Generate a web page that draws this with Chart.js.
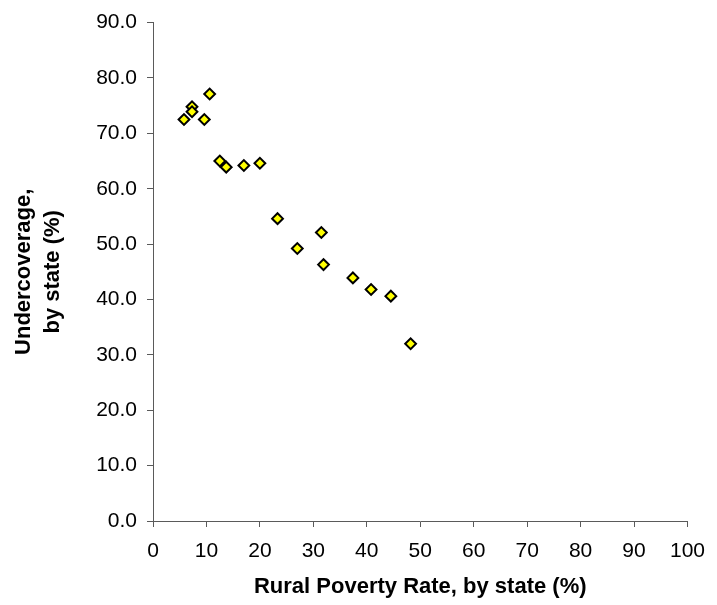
<!DOCTYPE html>
<html>
<head>
<meta charset="utf-8">
<script src="https://cdn.jsdelivr.net/npm/chart.js@4"></script>
<style>
  html, body { margin: 0; padding: 0; background: #fff; }
  #wrap { width: 717px; height: 605px; }
</style>
</head>
<body>
<div id="wrap"><canvas id="scatterChart" width="717" height="605"></canvas></div>
<script>
// rural poverty rate by state (%)
const povertyRate = [5.8, 7.3, 7.3, 9.6, 10.6, 12.5, 13.7, 17.0, 20.0, 23.3, 31.5, 27.0, 31.9, 37.4, 40.8, 44.5, 48.2];
// undercoverage by state (%)
const undercoverage = [72.5, 74.8, 73.9, 72.5, 77.1, 65.0, 63.9, 64.2, 64.6, 54.6, 52.1, 49.2, 46.3, 43.9, 41.8, 40.6, 32.0];

const xTitle = 'Rural Poverty Rate, by state (%)';
const yTitle = ['Undercoverage,', 'by state (%)'];

const fontFamily = '"Liberation Sans", Arial, sans-serif';
const axisColor = '#5a5a5a';

function buildPoints(xs, ys) {
  return xs.map((x, i) => ({ x: x, y: ys[i] }));
}

document.addEventListener('DOMContentLoaded', function () {
  const ctx = document.getElementById('scatterChart').getContext('2d');

  new Chart(ctx, {
    type: 'scatter',
    data: {
      datasets: [{
        data: buildPoints(povertyRate, undercoverage),
        pointStyle: 'rectRot',
        pointRadius: 5.4,
        pointHoverRadius: 5.4,
        backgroundColor: '#FFFF00',
        borderColor: '#000000',
        borderWidth: 2,
      }],
    },
    options: {
      responsive: false,
      animation: false,
      events: [],
      layout: {
        padding: { left: 9, right: 25, top: 19, bottom: 0 },
      },
      plugins: {
        legend: { display: false },
        tooltip: { enabled: false },
      },
      scales: {
        x: {
          type: 'linear',
          min: 0,
          max: 100,
          afterFit: function (scale) { scale.height = 84; },
          border: { display: true, color: axisColor, width: 1 },
          grid: {
            display: true,
            drawOnChartArea: false,
            drawTicks: true,
            tickLength: 6,
            color: axisColor,
          },
          ticks: {
            stepSize: 10,
            padding: 12,
            color: '#000',
            font: { family: fontFamily, size: 21 },
          },
          title: {
            display: true,
            text: xTitle,
            color: '#000',
            padding: { top: 0, bottom: 5 },
            font: { family: fontFamily, size: 22, weight: 'bold', lineHeight: 1.2 },
          },
        },
        y: {
          type: 'linear',
          min: 0,
          max: 90,
          afterFit: function (scale) { scale.width = 144; },
          border: { display: true, color: axisColor, width: 1 },
          grid: {
            display: true,
            drawOnChartArea: false,
            drawTicks: true,
            tickLength: 6,
            color: axisColor,
          },
          ticks: {
            stepSize: 10,
            padding: 10,
            color: '#000',
            font: { family: fontFamily, size: 21 },
            callback: function (value) { return value.toFixed(1); },
          },
          title: {
            display: true,
            text: yTitle,
            color: '#000',
            padding: { top: 0, bottom: 0 },
            font: { family: fontFamily, size: 22, weight: 'bold', lineHeight: 1.32 },
          },
        },
      },
    },
  });
});
</script>
</body>
</html>
